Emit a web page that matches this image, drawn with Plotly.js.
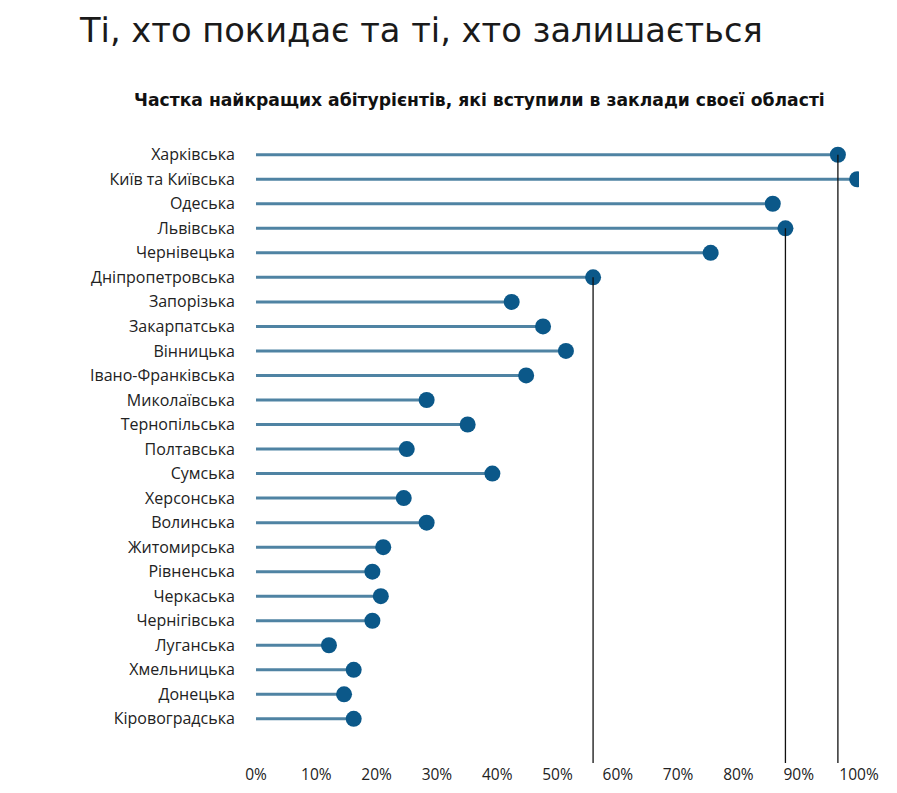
<!DOCTYPE html>
<html>
<head>
<meta charset="utf-8">
<script src="https://cdn.plot.ly/plotly-3.0.1.min.js"></script>
<style>
  html, body { margin: 0; padding: 0; background: #fff; }
  #chart { width: 897px; height: 793px; }
</style>
</head>
<body>
<div id="chart"></div>
<script>
var regions = ['Харківська', 'Київ та Київська', 'Одеська', 'Львівська', 'Чернівецька',
  'Дніпропетровська', 'Запорізька', 'Закарпатська', 'Вінницька', 'Івано-Франківська',
  'Миколаївська', 'Тернопільська', 'Полтавська', 'Сумська', 'Херсонська', 'Волинська',
  'Житомирська', 'Рівненська', 'Черкаська', 'Чернігівська', 'Луганська', 'Хмельницька',
  'Донецька', 'Кіровоградська'];

var share = [96.5, 99.7, 85.7, 87.8, 75.4, 55.9, 42.4, 47.6, 51.4, 44.8,
  28.3, 35.1, 25.0, 39.2, 24.5, 28.3, 21.1, 19.3, 20.7, 19.3, 12.1, 16.2, 14.6, 16.2];

// regions that get a drop line down to the axis
var markedRegions = ['Харківська', 'Львівська', 'Дніпропетровська'];

var xTicks = [0, 10, 20, 30, 40, 50, 60, 70, 80, 90, 100];

var n = regions.length;
var yPos = regions.map(function (r, i) { return n - 1 - i; });
var yBottom = -1.8;

// stems
var stemX = [], stemY = [];
share.forEach(function (v, i) {
  stemX.push(0, v, null);
  stemY.push(yPos[i], yPos[i], null);
});

var data = [{
  x: stemX, y: stemY,
  type: 'scatter', mode: 'lines',
  line: {color: '#4f83a3', width: 3},
  hoverinfo: 'skip'
}, {
  x: share, y: yPos,
  type: 'scatter', mode: 'markers',
  marker: {color: '#0b5889', size: 16},
  text: regions,
  hovertemplate: '%{text}: %{x}%<extra></extra>'
}];

markedRegions.forEach(function (r) {
  var i = regions.indexOf(r);
  data.push({
    x: [share[i], share[i]], y: [yPos[i], yBottom],
    type: 'scatter', mode: 'lines',
    line: {color: '#111', width: 1.3},
    hoverinfo: 'skip'
  });
});

var layout = {
  width: 897, height: 793,
  margin: {l: 256, r: 38, t: 140, b: 30},
  paper_bgcolor: '#fff', plot_bgcolor: '#fff',
  showlegend: false,
  font: {family: 'Open Sans, sans-serif', color: '#222', size: 16},
  title: {
    text: 'Ті, хто покидає та ті, хто залишається',
    font: {family: 'DejaVu Sans, sans-serif', size: 33.7, color: '#1a1a1a', weight: 400},
    xref: 'container', x: 80 / 897, xanchor: 'left',
    yref: 'container', y: 1 - 30 / 793, yanchor: 'middle'
  },
  annotations: [{
    text: '<b>Частка найкращих абітурієнтів, які вступили в заклади своєї області</b>',
    xref: 'paper', yref: 'paper',
    x: (479 - 256) / 603, y: 1 + (140 - 100) / 623,
    xanchor: 'center', yanchor: 'middle', showarrow: false,
    font: {family: 'DejaVu Sans, sans-serif', size: 17.2, color: '#111'}
  }],
  xaxis: {
    range: [0, 100], fixedrange: true,
    showgrid: false, zeroline: false, showline: false,
    tickvals: xTicks,
    ticktext: xTicks.map(function (t) { return t + '%'; }),
    ticks: '', tickfont: {size: 15.5}
  },
  yaxis: {
    range: [yBottom, n - 1 + 0.6], fixedrange: true,
    showgrid: false, zeroline: false, showline: false,
    tickvals: yPos, ticktext: regions,
    ticks: 'outside', ticklen: 17, tickcolor: 'rgba(0,0,0,0)',
    tickfont: {size: 16}
  }
};

Plotly.newPlot('chart', data, layout, {displayModeBar: false, staticPlot: true});
</script>
</body>
</html>
